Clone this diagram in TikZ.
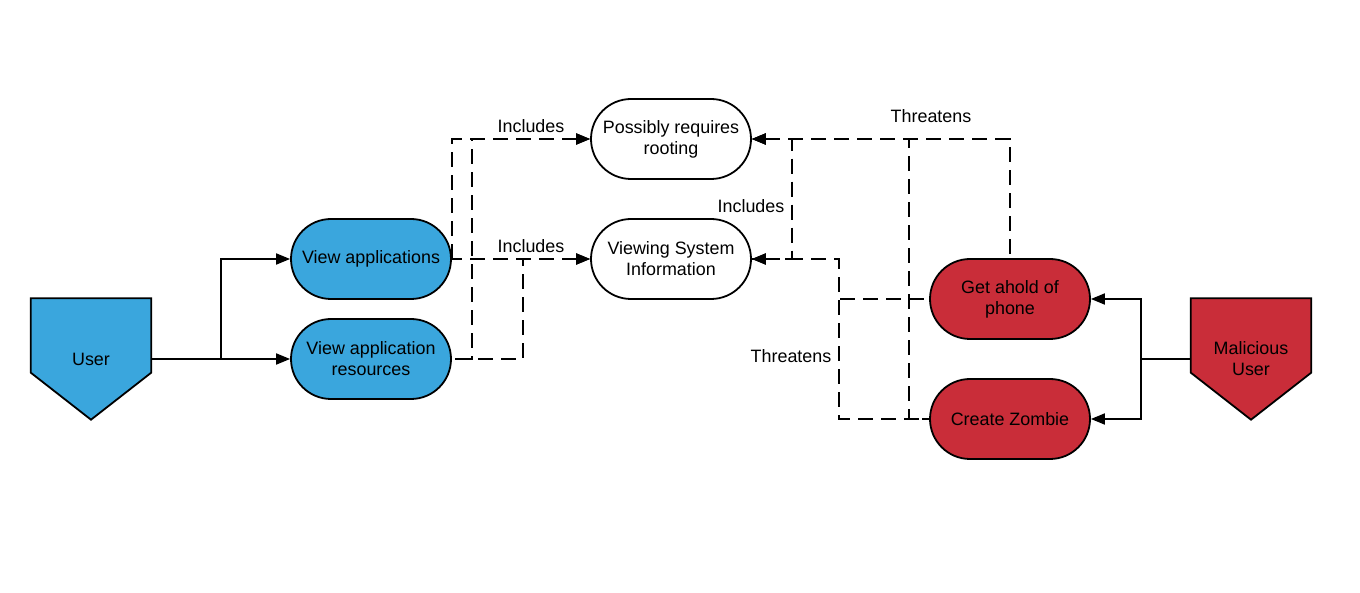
\documentclass[tikz,border=0pt]{standalone}
\usepackage{fontspec}
\setmainfont{Liberation Sans}
\usepackage{tikz}
\usetikzlibrary{arrows.meta}

\definecolor{userblue}{HTML}{3AA6DD}
\definecolor{threatred}{HTML}{C92D39}

\pgfdeclarelayer{background}
\pgfsetlayers{background,main}

\begin{document}
\begin{tikzpicture}[x=1pt,y=1pt,
  font=\fontsize{17.9}{21}\selectfont,
  usecase/.style={draw=black, line width=1.8pt, rounded corners=40pt,
    minimum width=160pt, minimum height=80pt, align=center, inner sep=0pt},
  actor/.style={minimum width=120pt, minimum height=121pt, align=center, inner sep=0pt},
  actorshape/.style={draw=black, line width=1.8pt, line join=miter},
  flow/.style={line width=1.8pt, -{Triangle[length=14pt,width=11pt]}},
  dep/.style={line width=1.8pt, {Triangle[length=14pt,width=11pt]}-, dash pattern=on 15pt off 8pt},
  lbl/.style={inner sep=1pt}]
\useasboundingbox (0,0) rectangle (1360,592);

\node[actor] (user) at (91,233) {User};
\node[actor] (mu) at (1251,233) {Malicious\\User};

\node[usecase, fill=userblue] (va) at (371,333) {View applications};
\node[usecase, fill=userblue] (var) at (371,233) {View application\\resources};
\node[usecase, fill=white] (pr) at (671,453) {Possibly requires\\rooting};
\node[usecase, fill=white] (vsi) at (671,333) {Viewing System\\Information};
\node[usecase, fill=threatred] (gp) at (1010,293) {Get ahold of\\phone};
\node[usecase, fill=threatred] (cz) at (1010,173) {Create Zombie};

\begin{pgfonlayer}{background}
\filldraw[actorshape, fill=userblue] (user.north west) -- (user.north east)
  -- ([yshift=47pt]user.south east) -- (user.south)
  -- ([yshift=47pt]user.south west) -- cycle;
\filldraw[actorshape, fill=threatred] (mu.north west) -- (mu.north east)
  -- ([yshift=47pt]mu.south east) -- (mu.south)
  -- ([yshift=47pt]mu.south west) -- cycle;
\end{pgfonlayer}

\draw[flow] (user.east) -- ++(70,0) |- (va.west);
\draw[flow] (user.east) -- (var.west);
\draw[flow] (mu.west) -- ++(-50,0) |- (gp.east);
\draw[flow] (mu.west) -- ++(-50,0) |- (cz.east);

% dashed links are drawn from their target so shared stretches line up
\draw[dep] (pr.west) -| (va.east);
\draw[dep] (vsi.west) -- (va.east);
\draw[dep] (pr.west) -| ([xshift=20pt]var.east) -- (var.east);
\draw[dep] (vsi.west) -| ([xshift=71pt]var.east) -- (var.east);
\draw[dep] (pr.east) -| ([xshift=40pt]vsi.east) -- (vsi.east);
\draw[dep] (pr.east) -| (gp.north);
\draw[dep] (pr.east) -| ([xshift=-20pt]cz.west) -- (cz.west);
\draw[dep] (vsi.east) -| ([xshift=-90pt]gp.west) -- (gp.west);
\draw[dep] (vsi.east) -| ([xshift=-90pt]cz.west) -- (cz.west);

\node[lbl] (inc1) at (531,466) {Includes};
\node[lbl] (inc2) at (531,346) {Includes};
\node[lbl] (inc3) at (751,386) {Includes};
\node[lbl] (thr1) at (931,476) {Threatens};
\node[lbl] (thr2) at (791,236) {Threatens};
\end{tikzpicture}
\end{document}
